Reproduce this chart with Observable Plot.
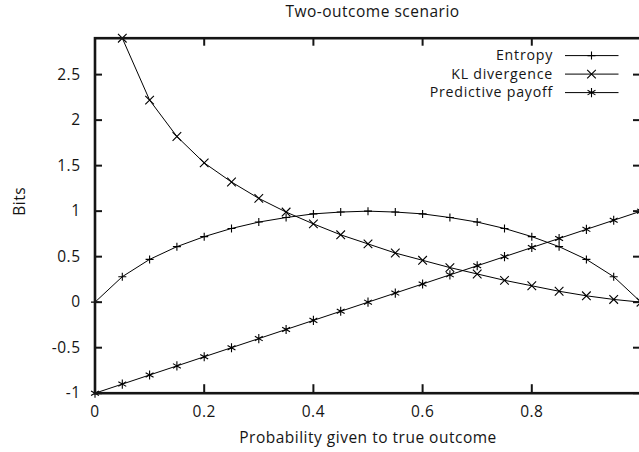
<!DOCTYPE html>
<html><head><meta charset="utf-8">
<script src="https://cdn.jsdelivr.net/npm/d3@7"></script>
<script src="https://cdn.jsdelivr.net/npm/@observablehq/plot@0.6"></script>
<style>
html,body{margin:0;padding:0;background:#fff;overflow:hidden}
#chart svg{display:block}
</style></head><body><div id="chart"></div>
<script>
// ---- data ----
const probability = [0,0.05,0.1,0.15,0.2,0.25,0.3,0.35,0.4,0.45,0.5,0.55,0.6,0.65,0.7,0.75,0.8,0.85,0.9,0.95,1];
const entropy = [0,0.28,0.47,0.61,0.72,0.81,0.88,0.93,0.97,0.99,1.0,0.99,0.97,0.93,0.88,0.81,0.72,0.61,0.47,0.28,0];
const klDivergence = [null,2.9,2.22,1.82,1.53,1.32,1.14,0.99,0.86,0.74,0.64,0.54,0.46,0.38,0.31,0.24,0.18,0.12,0.07,0.03,0];
const predictivePayoff = [-1,-0.9,-0.8,-0.7,-0.6,-0.5,-0.4,-0.3,-0.2,-0.1,0,0.1,0.2,0.3,0.4,0.5,0.6,0.7,0.8,0.9,1];
const seriesNames = ["Entropy","KL divergence","Predictive payoff"];
const seriesSymbols = ["plus","times","asterisk"];
const xTicks = [0,0.2,0.4,0.6,0.8,1];
const xTickLabels = ["0","0.2","0.4","0.6","0.8",""];
const yTicks = [-1,-0.5,0,0.5,1,1.5,2,2.5];
const yTickLabels = ["-1","-0.5","0","0.5","1","1.5","2","2.5"];
const titleText = "Two-outcome scenario";
const xLabel = "Probability given to true outcome";
const yLabel = "Bits";

// ---- build table ----
const seriesValues = [entropy, klDivergence, predictivePayoff];
const rows = [];
seriesValues.forEach((vals, s) => {
  vals.forEach((v, i) => { if (v != null) rows.push({x: probability[i], y: v, series: seriesNames[s]}); });
});

const W = 639, H = 452;
const mL = 94.5, mR = -1.5, mT = 37.7, mB = 59.3;
const frameW = W - mL - mR, frameH = H - mT - mB;
const ink = "#151515";
const symR = {plus: 2.7, times: 4, asterisk: 4.3};

const marks = [
  Plot.line(rows, {x: "x", y: "y", z: "series", stroke: "#000", strokeWidth: 1}),
  ...seriesNames.map((name, s) =>
    Plot.dot(rows.filter(d => d.series === name), {x: "x", y: "y", symbol: () => seriesSymbols[s], r: symR[seriesSymbols[s]], stroke: "#000", strokeWidth: 1.1})
  ),
  // inward ticks (gnuplot style, mirrored)
  Plot.ruleX(xTicks, {stroke: ink, strokeWidth: 2, insetTop: frameH - 8.5}),
  Plot.ruleX(xTicks, {stroke: ink, strokeWidth: 2, insetBottom: frameH - 8}),
  Plot.ruleY(yTicks, {stroke: ink, strokeWidth: 2, insetRight: frameW - 7.5}),
  Plot.ruleY(yTicks, {stroke: ink, strokeWidth: 2, insetLeft: frameW - 7.5}),
  Plot.frame({stroke: ink, strokeWidth: 2.6}),
  Plot.axisX({ticks: xTicks, tickSize: 0, tickPadding: 13, tickFormat: d => xTickLabels[xTicks.indexOf(d)], label: null, fill: ink}),
  Plot.axisY({ticks: yTicks, tickSize: 0, tickPadding: 14.5, tickFormat: d => yTickLabels[yTicks.indexOf(d)], label: null, fill: ink}),
  Plot.text([titleText], {text: d => d, frameAnchor: "top", dy: -25.8, dx: 4.5, fill: ink, lineAnchor: "middle"}),
  Plot.text([xLabel], {text: d => d, frameAnchor: "bottom", dy: 45.3, fill: ink, lineAnchor: "middle"}),
  Plot.text([yLabel], {text: d => d, frameAnchor: "left", dx: -74.5, rotate: -90, fill: ink, lineAnchor: "middle"})
];

const svg = Plot.plot({
  width: W, height: H,
  marginLeft: mL, marginRight: mR, marginTop: mT, marginBottom: mB,
  x: {domain: [0, 1], label: null},
  y: {domain: [-1, 2.9], label: null},
  style: {fontFamily: "'Open Sans', sans-serif", fontSize: "15.5px", letterSpacing: "0.5px", background: "#fff", color: ink},
  marks
});

// ---- legend (top-right, inside frame) ----
const symbolMap = {plus: d3.symbolPlus, times: d3.symbolTimes, asterisk: d3.symbolAsterisk};
const lg = d3.select(svg).append("g").attr("class", "legend")
  .style("font-size", "14.2px").style("letter-spacing", "0.75px");
seriesNames.forEach((name, i) => {
  const yy = 55.6 + i * 18.5;
  lg.append("text").attr("x", 553).attr("y", yy).attr("dy", "0.34em").attr("text-anchor", "end").attr("fill", ink).text(name);
  lg.append("line").attr("x1", 565).attr("x2", 618.5).attr("y1", yy).attr("y2", yy).attr("stroke", "#000").attr("stroke-width", 1);
  const r = symR[seriesSymbols[i]];
  lg.append("path").attr("transform", `translate(591.5,${yy})`)
    .attr("d", d3.symbol(symbolMap[seriesSymbols[i]], Math.PI * r * r)())
    .attr("fill", "none").attr("stroke", "#000").attr("stroke-width", 1.1);
});

document.getElementById("chart").appendChild(svg);
</script></body></html>
